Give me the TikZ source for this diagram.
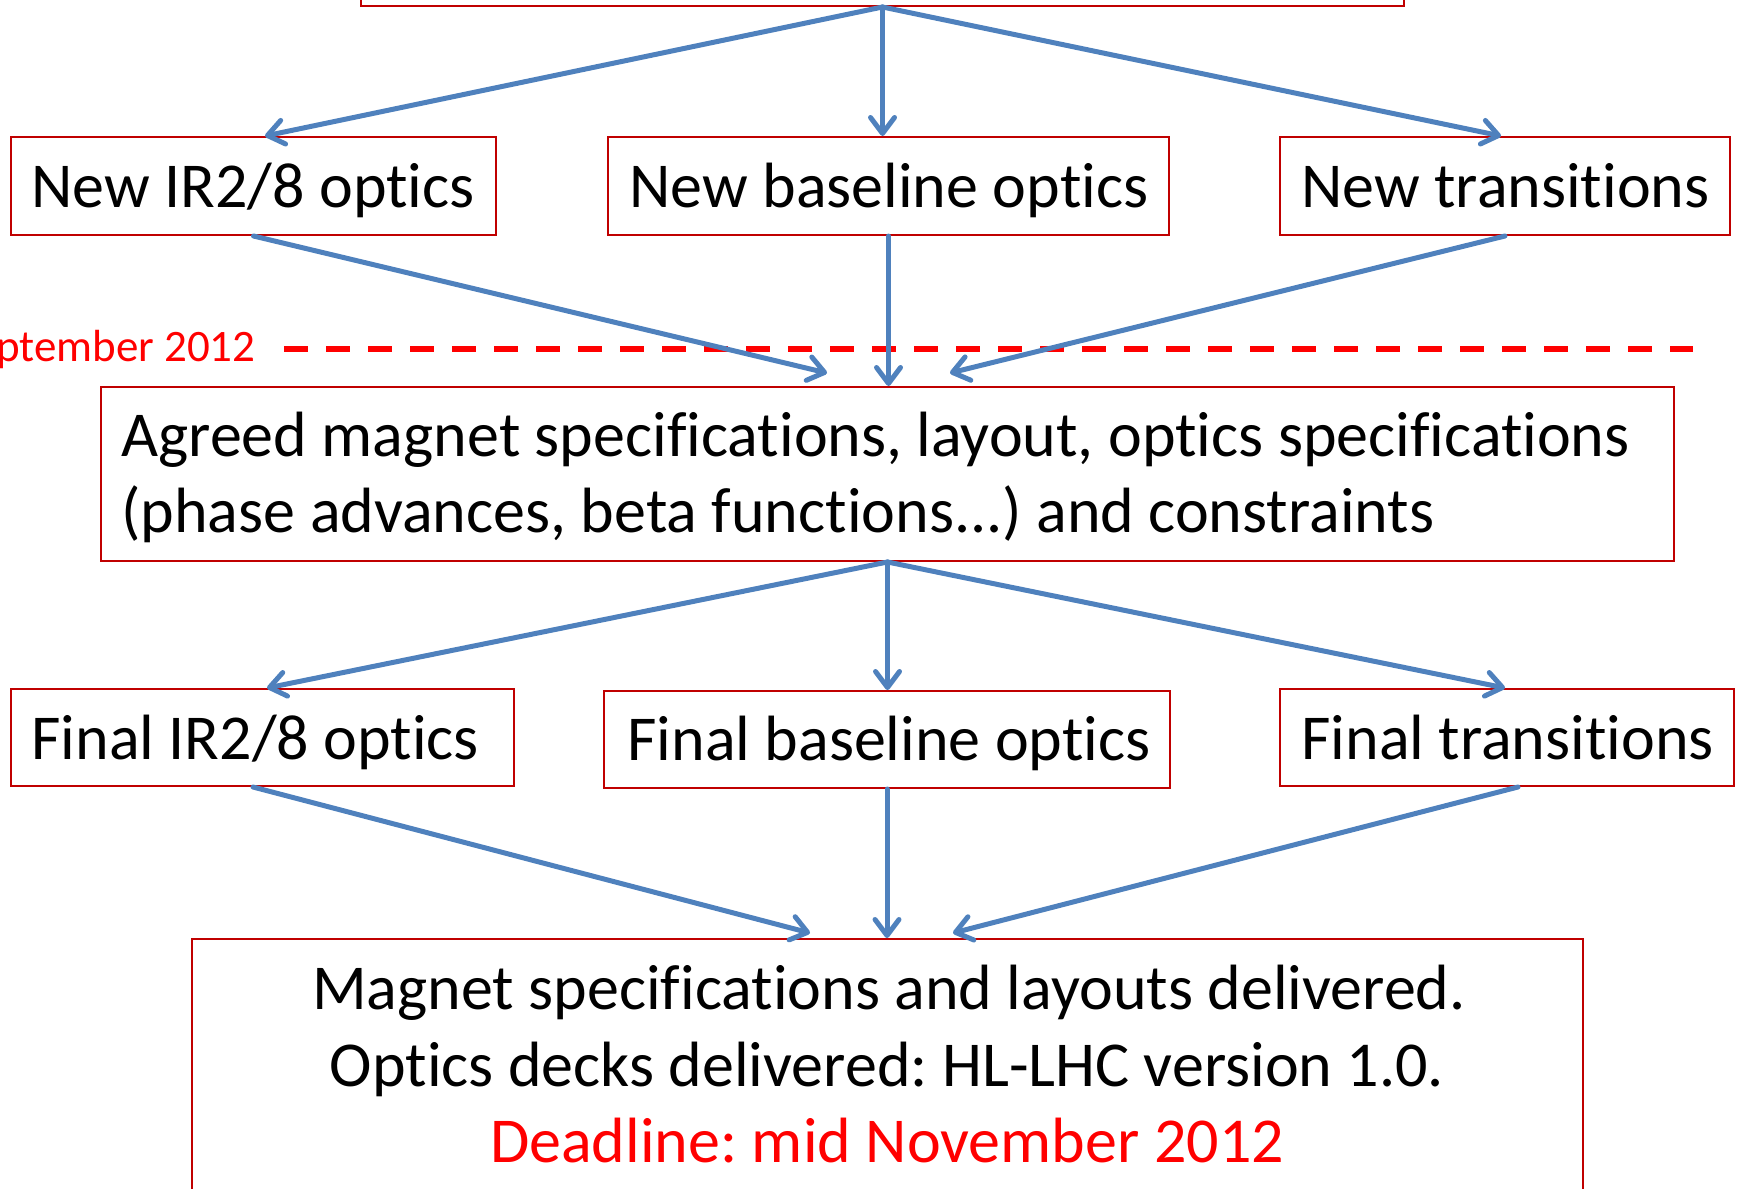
\documentclass[tikz,border=0pt]{standalone}
\usepackage{fontspec}
\setmainfont[Ligatures={NoCommon,NoRequired,NoContextual}]{Carlito}
\usetikzlibrary{arrows.meta}
\definecolor{flowblue}{HTML}{4F81BD}
\definecolor{boxred}{HTML}{C00000}
\definecolor{datered}{HTML}{FF0000}
\tikzset{
  box/.style={draw=boxred, line width=1pt, inner sep=0pt, fill=white},
  lbl/.style={inner sep=0pt, font=\fontsize{32pt}{38pt}\selectfont},
  datelbl/.style={inner sep=0pt, text=datered, font=\fontsize{22.5pt}{27pt}\selectfont},
  arr/.style={draw=flowblue, line width=2.5pt, line cap=round,
    -{Straight Barb[round, length=8pt, width=12pt]}},
  sepline/.style={draw=datered, line width=3pt, dash pattern=on 12pt off 9pt}
}
\frenchspacing
\begin{document}
\begin{tikzpicture}[x=0.5pt, y=-0.5pt]
  \useasboundingbox (0,0) rectangle (1743,1188);
  \clip (0,0) rectangle (1743,1188);

  % milestone separator
  \node[datelbl, anchor=base east] (sept) at (256,361) {September 2012};
  \draw[sepline] (284,349) -- (1693,349);

  % boxes
  \node[box, minimum width=521.5pt, minimum height=50pt] (top) at (882.5,-44) {};

  \node[box, minimum width=242.5pt, minimum height=49pt] (n1) at (253.5,186) {};
  \node[box, minimum width=280.5pt, minimum height=49pt] (n2) at (888.5,186) {};
  \node[box, minimum width=225pt,   minimum height=49pt] (n3) at (1505,186) {};

  \node[box, minimum width=786.5pt, minimum height=87pt] (agreed) at (887.5,474) {};

  \node[box, minimum width=251.5pt, minimum height=48.5pt] (f1) at (262.5,737.5) {};
  \node[box, minimum width=283pt,   minimum height=48.5pt] (f2) at (887,739.5) {};
  \node[box, minimum width=227pt,   minimum height=48.5pt] (f3) at (1507,737.5) {};

  \node[box, minimum width=695.5pt, minimum height=150pt] (final) at (887.5,1089) {};

  % box texts
  \node[lbl, anchor=base west] (t1) at (31,207) {New IR2/8 optics};
  \node[lbl, anchor=base west] (t2) at (629,207) {New baseline optics};
  \node[lbl, anchor=base west] (t3) at (1301,207) {New transitions};

  \node[lbl, anchor=base west] (ta) at (121,456) {Agreed magnet specifications, layout, optics specifications};
  \node[lbl, anchor=base west] (tb) at (121,532) {(phase advances, beta functions...) and constraints};

  \node[lbl, anchor=base west] (u1) at (31,759) {Final IR2/8 optics};
  \node[lbl, anchor=base west] (u2) at (627,760) {Final baseline optics};
  \node[lbl, anchor=base west] (u3) at (1301,759) {Final transitions};

  \node[lbl, anchor=base] (d1) at (889,1009) {Magnet specifications and layouts delivered.};
  \node[lbl, anchor=base] (d2) at (887,1086) {Optics decks delivered: HL-LHC version 1.0.};
  \node[lbl, anchor=base, text=datered] (d3) at (887,1162) {Deadline: mid November 2012};

  % connectors
  \draw[arr] (top.south) -- ([xshift=5.75pt]n1.north);
  \draw[arr] (top.south) -- (top.south |- n2.north);
  \draw[arr] (top.south) -- ([xshift=-2pt]n3.north);

  \draw[arr] (n1.south) -- ([xshift=-30.25pt, yshift=6.5pt]agreed.north);
  \draw[arr] (n2.south) -- (n2.south |- agreed.north);
  \draw[arr] (n3.south) -- ([xshift=31.25pt, yshift=6.5pt]agreed.north);

  \draw[arr] (agreed.south) -- ([xshift=2.25pt]f1.north);
  \draw[arr] (agreed.south) -- (agreed.south |- f2.north);
  \draw[arr] (agreed.south) -- ([xshift=-1pt]f3.north);

  \draw[arr] ([xshift=-4.75pt]f1.south) -- ([xshift=-38.75pt, yshift=2.5pt]final.north);
  \draw[arr] (f2.south) -- (f2.south |- final.north);
  \draw[arr] ([xshift=5.5pt]f3.south) -- ([xshift=32.75pt, yshift=2.5pt]final.north);
\end{tikzpicture}
\end{document}
